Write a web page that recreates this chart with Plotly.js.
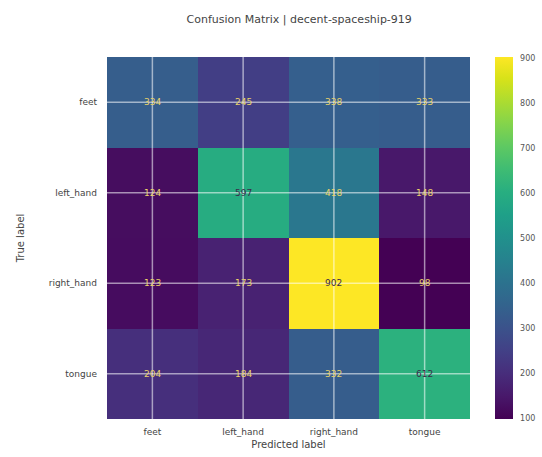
<!DOCTYPE html>
<html>
<head>
<meta charset="utf-8">
<script src="https://cdn.plot.ly/plotly-3.0.1.min.js"></script>
<style>html,body{margin:0;padding:0;background:#fff;}#chart{width:542px;height:457px;}</style>
</head>
<body>
<div id="chart"></div>
<script>
const predictedLabels = ["feet", "left_hand", "right_hand", "tongue"];
const trueLabels = ["feet", "left_hand", "right_hand", "tongue"];
const rowFeet = [334, 245, 338, 333];
const rowLeftHand = [124, 597, 418, 148];
const rowRightHand = [123, 173, 902, 98];
const rowTongue = [204, 184, 332, 612];
const colorbarTicks = [100, 200, 300, 400, 500, 600, 700, 800, 900];

const z = [rowFeet, rowLeftHand, rowRightHand, rowTongue];
const flat = z.flat();
const zmin = Math.min(...flat), zmax = Math.max(...flat);
const thresh = (zmin + zmax) / 2;

const annotations = [];
z.forEach((row, i) => row.forEach((v, j) => {
  annotations.push({
    x: predictedLabels[j], y: trueLabels[i], xref: 'x', yref: 'y',
    text: String(v), showarrow: false,
    font: {family: 'DejaVu Sans', size: 9, color: v > thresh ? '#3b2a4a' : '#e9d36a'}
  });
}));

const shapes = [];
predictedLabels.forEach(c => shapes.push({type: 'line', xref: 'x', yref: 'paper', x0: c, x1: c, y0: 0, y1: 1, layer: 'above', line: {color: 'rgba(255,255,255,0.55)', width: 1.5}}));
trueLabels.forEach(c => shapes.push({type: 'line', xref: 'paper', yref: 'y', x0: 0, x1: 1, y0: c, y1: c, layer: 'above', line: {color: 'rgba(255,255,255,0.55)', width: 1.5}}));

const trace = {
  type: 'heatmap', x: predictedLabels, y: trueLabels, z: z,
  colorscale: 'Viridis', zmin: zmin, zmax: zmax, xgap: 0, ygap: 0,
  hoverinfo: 'none',
  colorbar: {
    x: 1.069, xanchor: 'left', xref: 'paper', y: 0, yanchor: 'bottom', len: 1, lenmode: 'fraction',
    thickness: 18, thicknessmode: 'pixels', outlinewidth: 0, xpad: 0, ypad: 0,
    tickvals: colorbarTicks, ticks: 'outside', ticklen: 6, tickcolor: 'rgba(0,0,0,0)',
    tickfont: {family: 'DejaVu Sans', size: 8, color: '#555'}
  }
};

const layout = {
  width: 542, height: 457,
  margin: {l: 107, r: 72, t: 57, b: 38, pad: 0, autoexpand: false},
  paper_bgcolor: '#fff', plot_bgcolor: '#fff',
  title: {text: 'Confusion Matrix | decent-spaceship-919', xref: 'container', x: 0.552, xanchor: 'center', yref: 'container', y: 0.958, yanchor: 'middle',
    font: {family: 'DejaVu Sans', size: 11, color: '#444'}},
  xaxis: {type: 'category', showgrid: false, zeroline: false, ticks: '', ticklen: 0, ticklabelstandoff: 6,
    tickfont: {family: 'DejaVu Sans', size: 9, color: '#444'},
    title: {text: 'Predicted label', standoff: 4, font: {family: 'DejaVu Sans', size: 10, color: '#444'}}},
  yaxis: {type: 'category', autorange: 'reversed', showgrid: false, zeroline: false, ticks: '', ticklen: 0, ticklabelstandoff: 9,
    tickfont: {family: 'DejaVu Sans', size: 9, color: '#444'},
    title: {text: 'True label', standoff: 22, font: {family: 'DejaVu Sans', size: 10, color: '#444'}}},
  annotations: annotations,
  shapes: shapes
};

Plotly.newPlot('chart', [trace], layout, {displayModeBar: false, staticPlot: true});
</script>
</body>
</html>
